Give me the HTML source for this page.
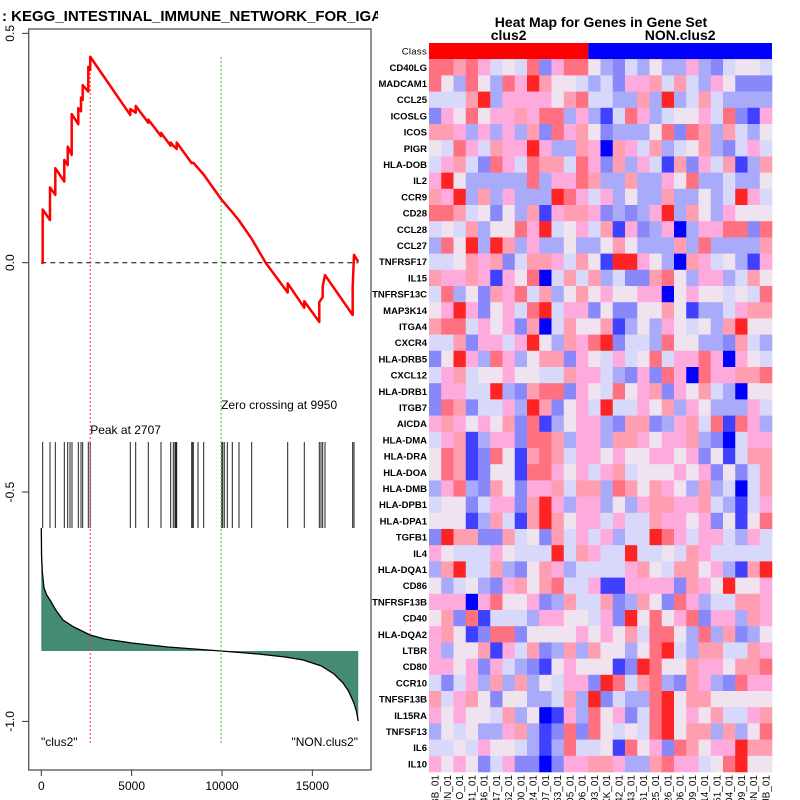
<!DOCTYPE html>
<html><head><meta charset="utf-8"><style>
body{margin:0;background:#fff}
svg{display:block;font-family:"Liberation Sans",sans-serif}
</style></head><body>
<svg id="chart" width="800" height="800" viewBox="0 0 800 800" xmlns="http://www.w3.org/2000/svg">
<rect x="0" y="0" width="800" height="800" fill="#fff"/>
<g id="left"></g>
<g id="right"></g>
</svg>
<script>
const esRank=[0,77,77,481,481,775,775,1273,1273,1461,1461,1682,1682,2048,2048,2197,2197,2290,2290,2601,2601,2707,2707,4925,4925,5224,5224,5921,5921,6624,6624,7160,7160,7305,7493,7493,8323,8412,8987,9983,10570,10941,11643,12415,13635,13635,14554,14554,15384,15384,15572,15572,15699,17232,17232,17305,17540];
const esValue=[0,0,0.116,0.093,0.164,0.148,0.206,0.177,0.224,0.213,0.253,0.235,0.324,0.302,0.337,0.330,0.360,0.355,0.387,0.373,0.427,0.420,0.449,0.322,0.335,0.327,0.342,0.305,0.312,0.276,0.283,0.255,0.262,0.255,0.248,0.262,0.217,0.218,0.192,0.137,0.110,0.092,0.052,0,-0.065,-0.045,-0.098,-0.084,-0.129,-0.086,-0.075,-0.052,-0.027,-0.114,-0.052,0.017,0.002];
const hitRanks=[77,481,775,1273,1461,1588,1699,2048,2197,2290,2601,2707,4925,5224,5921,6624,7160,7305,7398,7454,7493,8323,8378,8412,8672,8987,9983,10039,10127,10293,10570,10941,11643,13635,14554,15384,15478,15572,15699,17232,17305];
const metricRank=[0,15,60,150,300,481,800,1200,1800,2700,3500,5000,7000,9950,12000,13500,14500,15500,16200,16700,17000,17300,17450,17540];
const metricValue=[1.23,0.95,0.78,0.63,0.56,0.51,0.41,0.31,0.24,0.16,0.12,0.08,0.04,0,-0.03,-0.06,-0.09,-0.15,-0.23,-0.32,-0.40,-0.52,-0.61,-0.70];
const xTicks=[0,5000,10000,15000];
const yTicks=[0.5,0.0,-0.5,-1.0];
const peakRank=2707, zeroRank=9950;

const genes=["CD40LG","MADCAM1","CCL25","ICOSLG","ICOS","PIGR","HLA-DOB","IL2","CCR9","CD28","CCL28","CCL27","TNFRSF17","IL15","TNFRSF13C","MAP3K14","ITGA4","CXCR4","HLA-DRB5","CXCL12","HLA-DRB1","ITGB7","AICDA","HLA-DMA","HLA-DRA","HLA-DOA","HLA-DMB","HLA-DPB1","HLA-DPA1","TGFB1","IL4","HLA-DQA1","CD86","TNFRSF13B","CD40","HLA-DQA2","LTBR","CD80","CCR10","TNFSF13B","IL15RA","TNFSF13","IL6","IL10"];
const samples=["BB_01","HN_01","HO_01","041_01","046_01","047_01","062_01","000_01","324_01","307_01","353_01","HD5_01","HD6_01","593_01","XK_01","042_01","043_01","061_01","325_01","326_01","906_01","909_01","914_01","351_01","HD4_01","HD9_01","68N_01","JB_01"];
const classes=["clus2","NON.clus2"];
const classCounts=[13,15];
const cells=[
"rrprmlwlrBmrrwbBlbwbbmbBlwwl",
"rwbrwbrmRpwwlblBmmplplbmwBBB",
"lllpRbmmmmwprllbbpbRblplbbbb",
"BmwrwmmpmrrbmbDlrmblwwmlrBDm",
"ppmbmbmbpBrmpwBbbbwrBrpbplbw",
"wlrmlpmmRmbbpmXpmlpblwpbBlml",
"lmplBrmlrpplrmBpbmlDpBmlpDbp",
"mRwbbbbbrbmmrpbbpbbmwrbblbbw",
"pmRbpbmbbbRrmlmbwbbpbbwblRml",
"rrplwBwbpDmppmBbBbmRbpwbmwww",
"lwlpbwwrmRlwmlpDmBbmXbmmrrBr",
"brwRbRpbmbbwbbwpwbbbpbrbbbbp",
"llwpmpBlppmlpwDRRmwbXpmlwbDm",
"pmmpmDmwrXlplpblBBprwbmmblpw",
"lrbwBpmrlpbwpwmwwmmXwmwwlwlr",
"wmRmBwmlrRlmmBwBBwwpwDbblmpp",
"prrlmwmBpXlpwwpDbwbmwlwbpRww",
"llpBmmlmRwbpmrRBllbrwwbbBplb",
"BwRmbrmbwppBmwlmlwrlmmrmXmwl",
"lmplwwmwwllpmmlbBmBrmXrmmppr",
"BmmllRbBprrBmwlrwmpBmwplbXww",
"BrpBllmbRpBwmlRllmwpbmwbbbml",
"mpmwmwpBrDbwmmbBppBbmplrDrmb",
"lmpDbmmBrrpbmmbppmwmmpbBXlmm",
"wrpDBrwDprplmmwmwwmmwmBwDlpp",
"wrpDBwwDrrmwmlmplwwwmwmBwBlp",
"bmrbBpwBmmplppbrpwpmwbpblXlp",
"lwwBlmmBpRmbmmbwbmppmmplbDlm",
"wwwDbplDpRpwmmlmllpmmwmBwDwr",
"BRppBBplwBplmlmbllRrmlmmlbml",
"mwlllmwlllRlpmllRllwlpmlllll",
"bpRllpbBwpmbllllmpwlppwmbDpR",
"wblwbBmpwprllmDDmmmmBpmwRwwm",
"mmmXmrwwmBbpllpBbpwBrmbllppm",
"wpBrDlllbmmwwlmBRwrwmrBmmbpm",
"mpwDBrrBwwwwmwmwplrrwbrbpBbw",
"mbwwpDmlpBbpbpwwbwrRlbppllpm",
"mmwmBmlbBDwmwwwDBRrwwpmmwppr",
"lBlmbpbpbwlmmBRrlprbBpmbBrmm",
"plmpwBwwbblpbRBlbbrRwppwwwww",
"mwmwwlpbwXDmbrwmBlrRwmwpllmp",
"bwlwbbmpbDBrBrwlwlrRwppbpbwr",
"llwlmwwlbDbrllwDrwmBrpwmmRpp",
"mwmwBlmBBXBmmppmbbprmmlwrRww"
];
const palette={R:"#ff2424",r:"#ff7080",p:"#ff9eb0",m:"#ffaadc",w:"#efe3ef",l:"#d8d8fa",b:"#aaaafa",B:"#8888fa",D:"#4040ff",X:"#0000ff"};

const NS="http://www.w3.org/2000/svg";
function mk(tag,attrs,parent,text){const e=document.createElementNS(NS,tag);for(const k in attrs)e.setAttribute(k,attrs[k]);if(text!==undefined)e.textContent=text;parent.appendChild(e);return e;}

const xS=r=>41.3+r*0.01807;
const yS=v=>262.7-v*458.7;
const mY=v=>651-v*100;
const L=document.getElementById('left');

let t=mk('text',{x:2,y:21,'font-size':15,'font-weight':'bold'},L,": KEGG_INTESTINAL_IMMUNE_NETWORK_FOR_IGA_P");

mk('rect',{x:378,y:0,width:422,height:28,fill:'#fff'},L);

let box=mk('rect',{x:28.7,y:29,width:342.3,height:741,fill:'none',stroke:'#555','stroke-width':1.3},L);


yTicks.forEach(v=>{const y=yS(v);
 mk('line',{x1:22,x2:28.7,y1:y,y2:y,stroke:'#333'},L);
 const lb=mk('text',{x:14,y:y,'font-size':12,'text-anchor':'middle',transform:`rotate(-90 14 ${y})`},L,v.toFixed(1));
 
});
xTicks.forEach(v=>{const x=xS(v);
 mk('line',{x1:x,x2:x,y1:770,y2:776,stroke:'#333'},L);
 const lb=mk('text',{x:x,y:790,'font-size':12,'text-anchor':'middle'},L,String(v));
 
});

let d=`M${xS(metricRank[0])},${mY(0)}`;
metricRank.forEach((r,i)=>{d+=` L${xS(r)},${mY(metricValue[i])}`;});
d+=` L${xS(metricRank[metricRank.length-1])},${mY(0)} Z`;
let area=mk('path',{d:d,fill:'#458b74',stroke:'none'},L);

let ml=mk('polyline',{points:metricRank.map((r,i)=>`${xS(r)},${mY(metricValue[i])}`).join(' '),fill:'none',stroke:'#000','stroke-width':1.3},L);


hitRanks.forEach(r=>{const ln=mk('line',{x1:xS(r),x2:xS(r),y1:442,y2:528,stroke:'#222','stroke-width':1},L);
 });

let zl=mk('line',{x1:xS(0),x2:xS(17540),y1:yS(0),y2:yS(0),stroke:'#000','stroke-dasharray':'5,4'},L);

let pl=mk('line',{x1:xS(peakRank),x2:xS(peakRank),y1:57,y2:745,stroke:'#f33','stroke-dasharray':'2,2'},L);

let zc=mk('line',{x1:xS(zeroRank),x2:xS(zeroRank),y1:57,y2:745,stroke:'#6c6','stroke-dasharray':'2,2','stroke-width':1.3},L);


let es=mk('polyline',{points:esRank.map((r,i)=>`${xS(r)},${yS(esValue[i])}`).join(' '),fill:'none',stroke:'#f00','stroke-width':2.5,'stroke-linejoin':'round'},L);


t=mk('text',{x:xS(peakRank),y:434,'font-size':12},L,"Peak at "+peakRank);

t=mk('text',{x:xS(zeroRank),y:409,'font-size':12},L,"Zero crossing at "+zeroRank);

t=mk('text',{x:41,y:746,'font-size':12},L,'"clus2"');

t=mk('text',{x:358,y:746,'font-size':12,'text-anchor':'end'},L,'"NON.clus2"');


const R=document.getElementById('right');
const hx=429, hw=(772-429)/samples.length, hy=43, rh=(772-43)/(genes.length+1);
t=mk('text',{x:601,y:27,'font-size':14,'font-weight':'bold','text-anchor':'middle'},R,"Heat Map for Genes in Gene Set");

let off=0;
const ccol=["#ff0000","#0000ff"];
classes.forEach((c,i)=>{
 const r=mk('rect',{x:hx+off*hw,y:hy,width:classCounts[i]*hw,height:rh,fill:ccol[i]},R);
 
 const tx=mk('text',{x:hx+(off+classCounts[i]/2)*hw,y:40,'font-size':14,'font-weight':'bold','text-anchor':'middle'},R,c);
 
 off+=classCounts[i];
});
t=mk('text',{x:427,y:hy+rh/2+3.5,'font-size':9.5,'text-anchor':'end','letter-spacing':'0.3'},R,"Class");

genes.forEach((g,i)=>{
 const y=hy+rh*(i+1);
 const row=(cells[i]+"wwwwwwwwwwwwwwwwwwwwwwwwwwww").slice(0,samples.length);
 for(let j=0;j<samples.length;j++){
  const c=mk('rect',{x:hx+j*hw,y:y,width:hw+0.3,height:rh+0.3,fill:palette[row[j]]||'#eee'},R);
  
  
 }
 const lb=mk('text',{x:427,y:y+rh/2+3.5,'font-size':9.5,'font-weight':'bold','text-anchor':'end'},R,g);
 
});
samples.forEach((s,j)=>{
 const x=hx+(j+0.5)*hw+3.5;
 const lb=mk('text',{x:x,y:775,'font-size':10,'text-anchor':'end',transform:`rotate(-90 ${x} 775)`},R,s);
 
});
</script>
</body></html>
